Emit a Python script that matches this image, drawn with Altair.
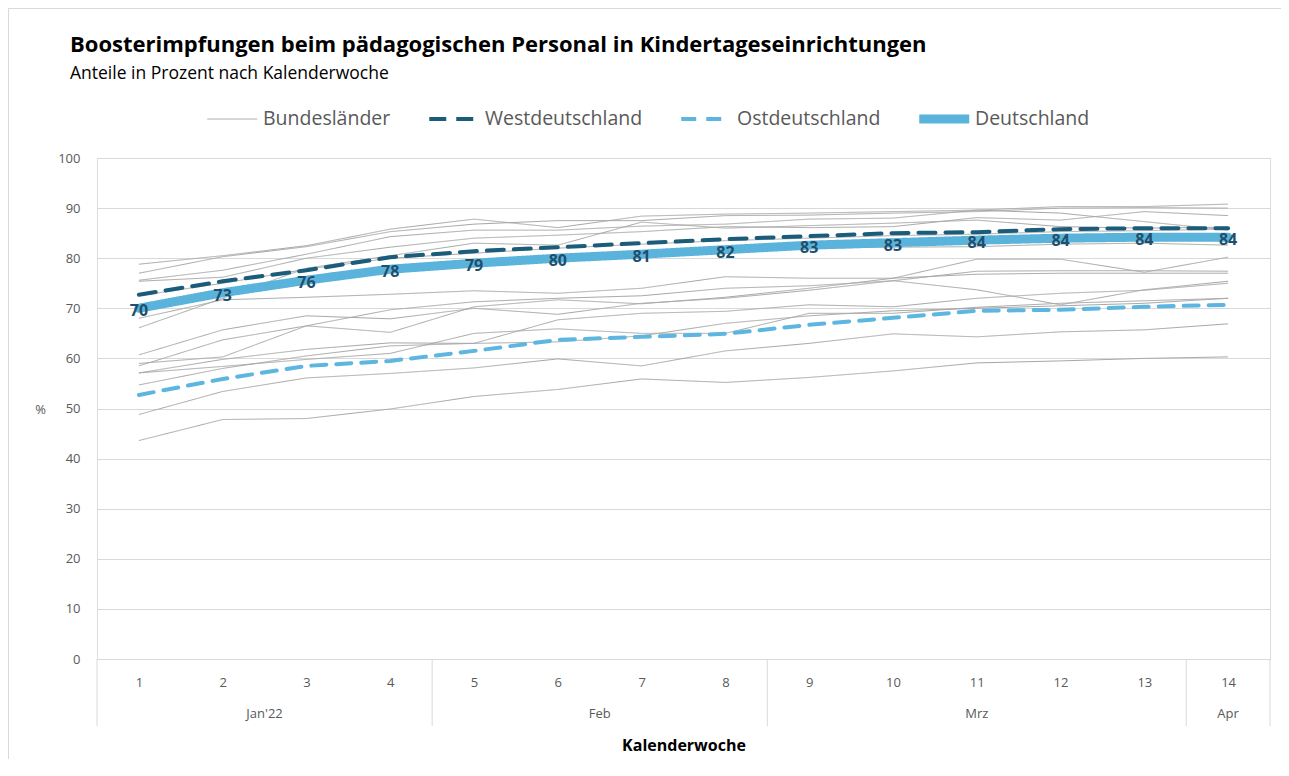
import altair as alt
import pandas as pd

weeks = list(range(1, 15))
months = ["Jan'22", "Feb", "Mrz", "Apr"]
month_mid = [2.5, 6.5, 11.0, 14.0]
month_bounds = [0.5, 4.5, 8.5, 13.5, 14.5]

deutschland = [70.0, 73.1, 75.6, 77.8, 79.0, 80.0, 80.8, 81.7, 82.6, 83.1, 83.6, 84.0, 84.2, 84.2]
westdeutschland = [72.7, 75.4, 77.6, 80.2, 81.4, 82.2, 83.0, 83.8, 84.4, 85.0, 85.2, 85.8, 86.0, 86.0]
ostdeutschland = [52.7, 55.9, 58.5, 59.5, 61.5, 63.7, 64.3, 64.9, 66.7, 68.1, 69.5, 69.7, 70.3, 70.7]

bl_01 = [78.8, 80.5, 82.5, 85.8, 87.8, 86.1, 88.4, 88.8, 89.0, 89.3, 89.6, 90.3, 90.3, 90.8]
bl_02 = [77.0, 80.3, 82.3, 85.3, 86.8, 87.5, 87.5, 88.5, 88.6, 89.0, 89.3, 90.0, 90.1, 90.0]
bl_03 = [75.6, 77.6, 80.8, 84.3, 85.6, 85.6, 86.4, 86.8, 87.8, 88.0, 89.6, 89.0, 87.3, 85.6]
bl_04 = [75.4, 76.2, 80.0, 82.2, 84.0, 84.6, 85.3, 86.3, 86.1, 86.3, 88.1, 87.6, 89.3, 88.5]
bl_05 = [66.1, 72.0, 78.0, 80.5, 83.0, 82.6, 87.2, 86.0, 86.5, 87.0, 87.6, 86.3, 86.0, 86.2]
bl_06 = [70.5, 73.0, 75.5, 77.5, 78.5, 79.5, 80.5, 81.2, 82.0, 82.2, 82.3, 82.8, 83.0, 82.6]
bl_07 = [72.5, 75.0, 77.8, 80.0, 81.0, 82.0, 82.8, 83.5, 84.0, 84.5, 84.8, 85.3, 85.5, 85.8]
bl_08 = [68.0, 71.7, 72.2, 72.8, 73.5, 73.0, 74.0, 76.3, 76.0, 76.0, 79.8, 79.8, 77.2, 80.2]
bl_09 = [60.7, 65.7, 68.5, 67.9, 70.0, 68.8, 71.0, 72.0, 73.6, 75.5, 77.4, 77.5, 77.5, 77.4]
bl_10 = [58.5, 63.7, 66.5, 65.2, 70.3, 71.7, 70.9, 72.2, 74.0, 76.0, 76.8, 77.0, 77.0, 77.0]
bl_11 = [59.0, 60.3, 66.5, 69.7, 71.3, 72.0, 72.5, 74.0, 74.5, 75.5, 73.7, 70.7, 73.7, 75.4]
bl_12 = [57.1, 59.8, 61.8, 63.1, 63.0, 67.7, 69.0, 69.4, 70.7, 70.3, 72.0, 73.0, 73.6, 75.0]
bl_13 = [57.1, 58.4, 59.8, 61.0, 65.0, 65.9, 65.0, 65.0, 69.0, 69.0, 70.2, 71.0, 71.5, 72.0]
bl_14 = [54.7, 58.0, 60.5, 62.5, 63.0, 63.3, 64.5, 67.0, 68.5, 69.5, 70.0, 70.5, 71.0, 72.0]
bl_15 = [48.8, 53.4, 56.1, 57.0, 58.1, 59.9, 58.5, 61.5, 63.0, 64.9, 64.3, 65.3, 65.7, 66.9]
bl_16 = [43.6, 47.8, 48.0, 49.9, 52.4, 53.8, 55.9, 55.2, 56.2, 57.5, 59.1, 59.5, 60.0, 60.3]

laender = [bl_01, bl_02, bl_03, bl_04, bl_05, bl_06, bl_07, bl_08,
           bl_09, bl_10, bl_11, bl_12, bl_13, bl_14, bl_15, bl_16]

series_names = ["Bundesländer", "Westdeutschland", "Ostdeutschland", "Deutschland"]
series_colors = ["#a6a6a6", "#1b5c7a", "#5cb6e0", "#5ab3db"]
series_dash = [[1, 0], [17, 10], [15, 10], [1, 0]]
series_width = [1, 4, 4, 9]

rows = []
for i, vals in enumerate(laender):
    for w, v in zip(weeks, vals):
        rows.append({"week": w, "value": v, "serie": "Bundesländer", "line": f"BL{i+1}"})
bl_df = pd.DataFrame(rows)

def series_df(name, vals):
    return pd.DataFrame({"week": weeks, "value": vals, "serie": name, "line": name})

west_df = series_df("Westdeutschland", westdeutschland)
ost_df = series_df("Ostdeutschland", ostdeutschland)
de_df = series_df("Deutschland", deutschland)
de_df["label"] = [str(int(round(v))) for v in deutschland]

FONT = "Open Sans"
W, H = 1173, 501

x_enc = alt.X("week:Q",
              scale=alt.Scale(domain=[0.5, 14.5], nice=False, zero=False),
              axis=alt.Axis(values=weeks, format="d", title="Kalenderwoche", grid=False, domain=False,
                            ticks=False, labelFontSize=13, labelColor="#595959",
                            labelPadding=17, labelFont=FONT,
                            titleFont=FONT, titleFontSize=16, titleFontWeight="bold",
                            titleColor="#000000", titleY=86, titleBaseline="middle"))
y_enc = alt.Y("value:Q",
              scale=alt.Scale(domain=[0, 100], nice=False),
              axis=alt.Axis(values=list(range(0, 101, 10)), title="%", titleAngle=0,
                            titleX=-57, titleY=251, titleAlign="center", titleBaseline="middle",
                            titleFontSize=13, titleFontWeight="normal", titleColor="#595959",
                            titleFont=FONT, labelFont=FONT,
                            labelFontSize=13, labelColor="#595959", labelPadding=17,
                            domain=False, ticks=False, gridColor="#d9d9d9"))

# custom horizontal stroke symbol: 50px long at size 100
def legend():
    return alt.Legend(title=None, orient="none", direction="horizontal",
                      legendX=110, legendY=-51, padding=0, clipHeight=24,
                      symbolType="M-5,0H5", symbolSize=100, symbolOffset=15.5,
                      labelFontSize=19.5, labelColor="#595959", labelBaseline="middle",
                      labelFont=FONT, columnPadding=38, labelOffset=21, labelLimit=400)

color_enc = alt.Color("serie:N", scale=alt.Scale(domain=series_names, range=series_colors),
                      legend=legend())
dash_enc = alt.StrokeDash("serie:N", scale=alt.Scale(type="ordinal", domain=series_names,
                                                     range=series_dash),
                          legend=legend())
width_enc = alt.StrokeWidth("serie:N", scale=alt.Scale(type="ordinal", domain=series_names,
                                                       range=series_width),
                            legend=legend())

def line_layer(df, cap="butt"):
    return alt.Chart(df).mark_line(strokeCap=cap, strokeJoin="round").encode(
        x=x_enc, y=y_enc, color=color_enc, strokeDash=dash_enc, strokeWidth=width_enc,
        detail="line:N")

bl_layer = line_layer(bl_df)
ost_layer = line_layer(ost_df, "round")
west_layer = line_layer(west_df, "round")
de_layer = line_layer(de_df, "round")

labels = alt.Chart(de_df).mark_text(font=FONT, fontSize=16, fontWeight="bold",
                                    color="#1f4f6c", dy=3).encode(
    x=alt.X("week:Q"), y=alt.Y("value:Q"), text="label:N")

month_df = pd.DataFrame({"month": months, "mid": month_mid})
month_text = alt.Chart(month_df).mark_text(font=FONT, fontSize=13, color="#595959",
                                           baseline="middle").encode(
    x=alt.X("mid:Q"), y=alt.value(H + 55), text="month:N")

bound_df = pd.DataFrame({"b": month_bounds})
bounds = alt.Chart(bound_df).mark_rule(color="#d9d9d9", strokeWidth=1).encode(
    x=alt.X("b:Q"), y=alt.value(H), y2=alt.value(H + 67))

frame = alt.Chart(pd.DataFrame({"k": [0]})).mark_rect(
    filled=False, stroke="#d9d9d9", strokeWidth=1).encode(
    x=alt.value(-88.5), x2=alt.value(W + 60), y=alt.value(-149.5), y2=alt.value(H + 200))

chart = alt.layer(frame, bounds, bl_layer, ost_layer, west_layer, de_layer, labels, month_text).properties(
    width=W, height=H,
    title=alt.TitleParams(
        "Boosterimpfungen beim pädagogischen Personal in Kindertageseinrichtungen",
        subtitle="Anteile in Prozent nach Kalenderwoche",
        anchor="start", frame="group", dx=-27, offset=-75,
        font=FONT, fontSize=22, fontWeight="bold", color="#000000",
        subtitleFont=FONT, subtitleFontSize=17.5, subtitleColor="#000000", subtitlePadding=8),
    autosize=alt.AutoSizeParams(type="none"),
    padding={"left": 89, "top": 150, "right": 11, "bottom": 100},
).configure_view(stroke=None).configure(background="#ffffff")

chart.save("out.html", embed_options={"renderer": "svg", "actions": False})
